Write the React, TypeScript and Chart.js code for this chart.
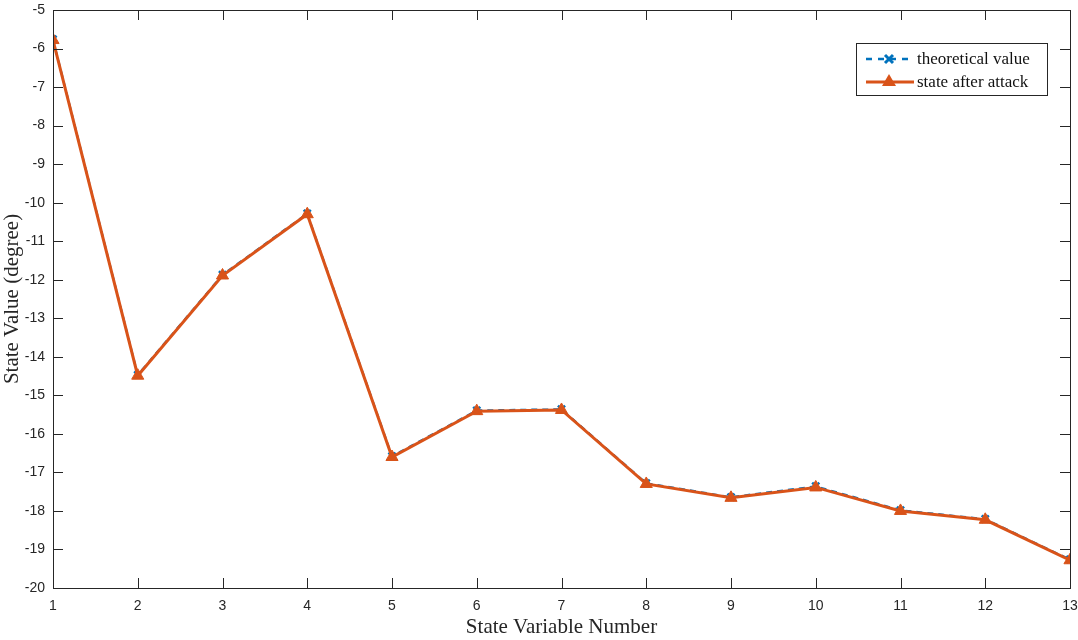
import React, { useEffect, useRef } from "react";
import { Chart, registerables } from "chart.js";

Chart.register(...registerables);

const stateNumbers = [1, 2, 3, 4, 5, 6, 7, 8, 9, 10, 11, 12, 13];
const theoreticalValue = [-5.76, -14.47, -11.87, -10.28, -16.58, -15.39, -15.36, -17.28, -17.64, -17.36, -17.98, -18.21, -19.26];
const stateAfterAttack = [-5.78, -14.49, -11.89, -10.3, -16.6, -15.41, -15.38, -17.3, -17.66, -17.39, -18.0, -18.23, -19.28];
const yTicks = [-20, -19, -18, -17, -16, -15, -14, -13, -12, -11, -10, -9, -8, -7, -6, -5];

const BLUE = "#0072BD";
const ORANGE = "#D95319";
const AXIS = "#262626";

const boxAndTicks = {
  id: "boxAndTicks",
  afterDatasetsDraw(chart: any) {
    const { ctx, chartArea: a, scales } = chart;
    const x = scales.x, y = scales.y;
    ctx.save();
    ctx.strokeStyle = AXIS;
    ctx.lineWidth = 1;
    ctx.beginPath();
    const tl = 10;
    stateNumbers.forEach((v) => {
      const px = Math.round(x.getPixelForValue(v)) + 0.5;
      ctx.moveTo(px, a.bottom);
      ctx.lineTo(px, a.bottom - tl);
      ctx.moveTo(px, a.top);
      ctx.lineTo(px, a.top + tl);
    });
    yTicks.forEach((v) => {
      const py = Math.round(y.getPixelForValue(v)) + 0.5;
      ctx.moveTo(a.left, py);
      ctx.lineTo(a.left + tl, py);
      ctx.moveTo(a.right, py);
      ctx.lineTo(a.right - tl, py);
    });
    ctx.stroke();
    ctx.strokeRect(Math.round(a.left) + 0.5, Math.round(a.top) + 0.5, Math.round(a.right - a.left), Math.round(a.bottom - a.top));
    ctx.restore();
  },
  afterDraw(chart: any) {
    const { ctx } = chart;
    const bx = 856, by = 43, bw = 191, bh = 52;
    ctx.save();
    ctx.fillStyle = "#ffffff";
    ctx.fillRect(bx, by, bw, bh);
    ctx.strokeStyle = AXIS;
    ctx.lineWidth = 1;
    ctx.strokeRect(bx + 0.5, by + 0.5, bw, bh);
    const y1 = 59, y2 = 82;
    ctx.strokeStyle = BLUE;
    ctx.lineWidth = 2.5;
    ctx.setLineDash([6, 6]);
    ctx.beginPath();
    ctx.moveTo(866, y1);
    ctx.lineTo(914, y1);
    ctx.stroke();
    ctx.setLineDash([]);
    ctx.lineWidth = 3;
    ctx.beginPath();
    ctx.moveTo(885, y1 - 4);
    ctx.lineTo(893, y1 + 4);
    ctx.moveTo(893, y1 - 4);
    ctx.lineTo(885, y1 + 4);
    ctx.stroke();
    ctx.strokeStyle = ORANGE;
    ctx.fillStyle = ORANGE;
    ctx.lineWidth = 3;
    ctx.beginPath();
    ctx.moveTo(866, y2);
    ctx.lineTo(914, y2);
    ctx.stroke();
    ctx.beginPath();
    ctx.moveTo(889, y2 - 8);
    ctx.lineTo(896, y2 + 4);
    ctx.lineTo(882, y2 + 4);
    ctx.closePath();
    ctx.fill();
    ctx.fillStyle = "#111111";
    ctx.font = "17px 'Liberation Serif', serif";
    ctx.textBaseline = "middle";
    ctx.textAlign = "left";
    ctx.fillText("theoretical value", 917, y1 + 1);
    ctx.fillText("state after attack", 917, y2 + 1);
    ctx.restore();
  },
};

export default function App() {
  const ref = useRef<HTMLCanvasElement>(null);
  useEffect(() => {
    document.body.style.margin = "0";
    const chart = new Chart(ref.current!, {
      type: "line",
      data: {
        datasets: [
          {
            label: "theoretical value",
            data: stateNumbers.map((n, i) => ({ x: n, y: theoreticalValue[i] })),
            borderColor: BLUE,
            backgroundColor: BLUE,
            borderWidth: 2,
            borderDash: [6, 5],
            pointStyle: "crossRot",
            pointRadius: 5,
            pointBorderWidth: 2.5,
            pointBorderColor: BLUE,
            order: 2,
          },
          {
            label: "state after attack",
            data: stateNumbers.map((n, i) => ({ x: n, y: stateAfterAttack[i] })),
            borderColor: ORANGE,
            backgroundColor: ORANGE,
            borderWidth: 3,
            pointStyle: "triangle",
            pointRadius: 7,
            pointBorderWidth: 1,
            pointBackgroundColor: ORANGE,
            pointBorderColor: ORANGE,
            order: 1,
          },
        ],
      },
      options: {
        animation: false,
        responsive: false,
        maintainAspectRatio: false,
        layout: { padding: { top: 10, right: 8, left: 0, bottom: 0 } },
        plugins: { legend: { display: false }, tooltip: { enabled: false } },
        scales: {
          x: {
            type: "linear",
            min: 1,
            max: 13,
            afterBuildTicks: (s: any) => {
              s.ticks = stateNumbers.map((v) => ({ value: v }));
            },
            afterFit: (s: any) => {
              s.height = 52;
              s.paddingLeft = 0;
              s.paddingRight = 0;
            },
            grid: { display: false, drawTicks: false },
            border: { display: false },
            ticks: {
              padding: 10,
              color: AXIS,
              font: { family: "'Liberation Sans', Arial, sans-serif", size: 14 },
              maxRotation: 0,
              autoSkip: false,
            },
            title: {
              display: true,
              text: "State Variable Number",
              color: AXIS,
              padding: { top: 0, bottom: 0 },
              font: { family: "'Liberation Serif', serif", size: 21 },
            },
          },
          y: {
            type: "linear",
            min: -20,
            max: -5,
            afterBuildTicks: (s: any) => {
              s.ticks = yTicks.map((v) => ({ value: v }));
            },
            afterFit: (s: any) => {
              s.width = 53;
              s.paddingTop = 0;
              s.paddingBottom = 0;
            },
            grid: { display: false, drawTicks: false },
            border: { display: false },
            ticks: {
              padding: 8,
              color: AXIS,
              font: { family: "'Liberation Sans', Arial, sans-serif", size: 14 },
              autoSkip: false,
            },
            title: {
              display: true,
              text: "State Value (degree)",
              color: AXIS,
              padding: { top: 0, bottom: 0 },
              font: { family: "'Liberation Serif', serif", size: 21 },
            },
          },
        },
      },
      plugins: [boxAndTicks],
    } as any);
    return () => chart.destroy();
  }, []);
  return (
    <div style={{ width: 1078, height: 640 }}>
      <canvas ref={ref} width={1078} height={640} style={{ display: "block" }} />
    </div>
  );
}
